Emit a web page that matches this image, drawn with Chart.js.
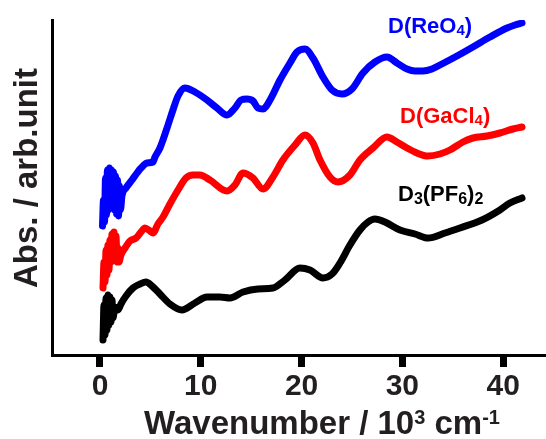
<!DOCTYPE html>
<html>
<head>
<meta charset="utf-8">
<script src="https://cdn.jsdelivr.net/npm/chart.js@4.4.1/dist/chart.umd.min.js"></script>
<style>
    html, body { margin: 0; padding: 0; background: #fff; }
    #wrap { width: 546px; height: 439px; }
</style>
</head>
<body>
<div id="wrap"><canvas id="grafico" width="546" height="439"></canvas></div>
<script>
// wavenumber (10^3 cm-1) and absorbance (arb. units)
var reoX = [0.25, 0.35, 0.45, 0.55, 0.64, 0.74, 0.84, 0.94, 1.04, 1.14, 1.24, 1.34, 1.44, 1.54, 1.64, 1.74, 1.84, 1.93, 2.03, 2.18,
    2.58, 3.17, 3.67, 4.07, 4.66, 5.26, 5.46, 5.95, 6.25, 6.75, 7.24, 7.74, 8.43, 9.42, 10.62, 11.61, 12.60, 13.39, 13.99, 14.58,
    15.18, 15.67, 16.17, 16.87, 17.86, 18.85, 19.54, 20.34, 21.13, 22.12, 23.02, 24.01, 25.0, 26.09, 27.28, 28.47, 29.46, 30.46,
    31.25, 32.04, 32.94, 33.73, 35.42, 37.00, 38.69, 40.38, 41.17, 41.87];
var reoY = [12.7, 15.3, 13.1, 17.5, 13.8, 18.3, 14.3, 18.5, 14.5, 18.3, 14.8, 18.1, 14.3, 17.7, 13.9, 17.3, 13.7, 16.7, 14.3, 15.7,
    16.5, 17.3, 18.0, 18.5, 19.0, 19.1, 19.6, 20.5, 21.3, 22.8, 24.3, 25.7, 26.5, 26.1, 25.3, 24.5, 23.8, 24.5, 25.3, 25.4,
    25.2, 24.5, 24.4, 25.3, 27.3, 29.0, 30.1, 30.4, 29.5, 27.6, 26.3, 25.9, 26.4, 28.0, 29.1, 29.6, 29.0, 28.4,
    28.2, 28.2, 28.4, 28.8, 29.7, 30.6, 31.6, 32.5, 32.8, 33.0];

var gaclX = [0.30, 0.40, 0.50, 0.60, 0.69, 0.79, 0.89, 0.99, 1.09, 1.19, 1.29, 1.39, 1.49, 1.59, 1.69, 1.79, 1.88, 2.08, 2.48, 2.98,
    3.57, 4.07, 4.46, 4.96, 5.26, 5.75, 6.25, 6.94, 7.74, 8.53, 9.23, 9.92, 10.91, 12.60, 13.39, 14.19, 15.18, 16.17, 17.16, 18.15,
    19.35, 20.34, 21.13, 21.83, 22.82, 23.61, 24.80, 25.79, 27.08, 28.47, 29.46, 30.46, 31.45, 32.54, 33.73, 34.72, 36.01, 37.00,
    38.39, 39.68, 40.97, 41.87];
var gaclY = [6.5, 9.1, 7.1, 10.3, 7.8, 10.8, 8.3, 11.3, 9.1, 11.9, 9.8, 12.1, 9.5, 11.7, 9.1, 10.5, 9.1, 9.8, 10.5, 11.2,
    11.5, 12.1, 12.5, 12.2, 12.0, 12.9, 13.6, 14.9, 16.3, 17.5, 17.8, 17.8, 17.3, 16.2, 16.8, 18.0, 17.5, 16.4, 17.6, 19.3,
    20.8, 21.8, 21.0, 19.3, 17.6, 17.1, 17.8, 19.3, 20.5, 21.6, 21.1, 20.5, 20.0, 19.7, 19.9, 20.3, 21.1, 21.5,
    21.7, 22.0, 22.4, 22.6];

var pf6X = [0.30, 0.40, 0.50, 0.60, 0.69, 0.79, 0.89, 0.99, 1.09, 1.19, 1.29, 1.49, 1.79, 2.08, 2.58, 3.27, 3.97, 4.56, 5.16, 5.95,
    6.94, 8.13, 9.42, 10.62, 11.90, 12.90, 14.19, 15.67, 17.16, 18.35, 19.84, 20.83, 22.12, 23.02, 23.81, 24.80, 25.79, 26.59,
    27.28, 28.27, 29.76, 31.25, 32.54, 34.23, 35.71, 37.90, 39.68, 40.67, 41.87];
var pf6Y = [1.3, 4.8, 1.8, 5.5, 2.3, 5.8, 2.8, 5.6, 3.1, 5.3, 3.5, 4.6, 4.3, 4.9, 5.7, 6.5, 6.9, 7.1, 6.7, 5.9,
    4.9, 4.3, 5.0, 5.6, 5.6, 5.5, 6.1, 6.4, 6.5, 7.3, 8.5, 8.3, 7.5, 7.9, 9.0, 10.8, 12.3, 13.1,
    13.4, 13.1, 12.3, 11.9, 11.5, 12.0, 12.5, 13.3, 14.3, 15.0, 15.5];

var xTicks = [0, 10, 20, 30, 40];

var fonte = '"Liberation Sans", Arial, sans-serif';

function pontos(xs, ys) {
    return xs.map(function (x, i) { return { x: x, y: ys[i] }; });
}

function serie(label, xs, ys, cor) {
    return {
        label: label,
        data: pontos(xs, ys),
        borderColor: cor,
        backgroundColor: cor,
        borderWidth: 7,
        pointRadius: 0,
        fill: false,
        cubicInterpolationMode: 'monotone',
        borderCapStyle: 'round',
        borderJoinStyle: 'round',
    };
}

// draws a run of text pieces (normal / sub / sup) starting at x, baseline y
function textoRico(ctx, partes, x, y, align) {
    var total = 0;
    partes.forEach(function (p) {
        ctx.font = 'bold ' + p.size + 'px ' + fonte;
        p.w = ctx.measureText(p.t).width;
        total += p.w;
    });
    var cx = align === 'center' ? x - total / 2 : x;
    ctx.textAlign = 'left';
    ctx.textBaseline = 'alphabetic';
    partes.forEach(function (p) {
        ctx.font = 'bold ' + p.size + 'px ' + fonte;
        ctx.fillText(p.t, cx, y + (p.dy || 0));
        cx += p.w;
    });
}

var pluginTextos = {
    id: 'textos',
    afterDraw: function (chart) {
        var ctx = chart.ctx;
        ctx.save();

        // y title
        ctx.fillStyle = '#231f20';
        ctx.translate(37, 178);
        ctx.rotate(-Math.PI / 2);
        ctx.font = 'bold 33px ' + fonte;
        ctx.textAlign = 'center';
        ctx.textBaseline = 'alphabetic';
        ctx.fillText('Abs. / arb.unit', 0, 0);
        ctx.setTransform(1, 0, 0, 1, 0, 0);

        // x title
        textoRico(ctx, [
            { t: 'Wavenumber / 10', size: 33 },
            { t: '3', size: 20, dy: -10 },
            { t: ' cm', size: 33 },
            { t: '-1', size: 20, dy: -10 },
        ], 322, 434, 'center');

        // series labels
        ctx.fillStyle = '#0000ff';
        textoRico(ctx, [
            { t: 'D(ReO', size: 22 },
            { t: '4', size: 15, dy: 2 },
            { t: ')', size: 22 },
        ], 388, 33);

        ctx.fillStyle = '#ff0000';
        textoRico(ctx, [
            { t: 'D(GaCl', size: 22 },
            { t: '4', size: 15, dy: 2 },
            { t: ')', size: 22 },
        ], 400, 123);

        ctx.fillStyle = '#000000';
        textoRico(ctx, [
            { t: 'D', size: 22 },
            { t: '3', size: 16, dy: 3 },
            { t: '(PF', size: 22 },
            { t: '6', size: 16, dy: 3 },
            { t: ')', size: 22 },
            { t: '2', size: 16, dy: 3 },
        ], 398, 201);

        ctx.restore();
    }
};

var chartEspectro = new Chart(document.getElementById('grafico').getContext('2d'), {
    type: 'line',
    data: {
        datasets: [
            serie('D(ReO4)', reoX, reoY, '#0000ff'),
            serie('D(GaCl4)', gaclX, gaclY, '#ff0000'),
            serie('D3(PF6)2', pf6X, pf6Y, '#000000'),
        ],
    },
    options: {
        responsive: false,
        animation: false,
        layout: { padding: { left: 52, top: 20, right: 0, bottom: 32 } },
        plugins: {
            legend: { display: false },
            tooltip: { enabled: false },
        },
        scales: {
            x: {
                type: 'linear',
                min: -4.76,
                max: 44.25,
                afterBuildTicks: function (scale) {
                    scale.ticks = xTicks.map(function (v) { return { value: v }; });
                },
                border: { display: true, color: '#000', width: 3 },
                grid: {
                    drawOnChartArea: false,
                    drawTicks: true,
                    tickLength: 12,
                    tickWidth: 7,
                    tickColor: '#000',
                },
                ticks: {
                    color: '#231f20',
                    padding: 2,
                    maxRotation: 0,
                    font: { family: fonte, size: 30, weight: 'bold' },
                },
            },
            y: {
                type: 'linear',
                min: -0.2,
                max: 33.3,
                border: { display: true, color: '#000', width: 3 },
                grid: { display: false, drawTicks: false },
                ticks: { display: false },
            },
        },
    },
    plugins: [pluginTextos],
});
</script>
</body>
</html>
